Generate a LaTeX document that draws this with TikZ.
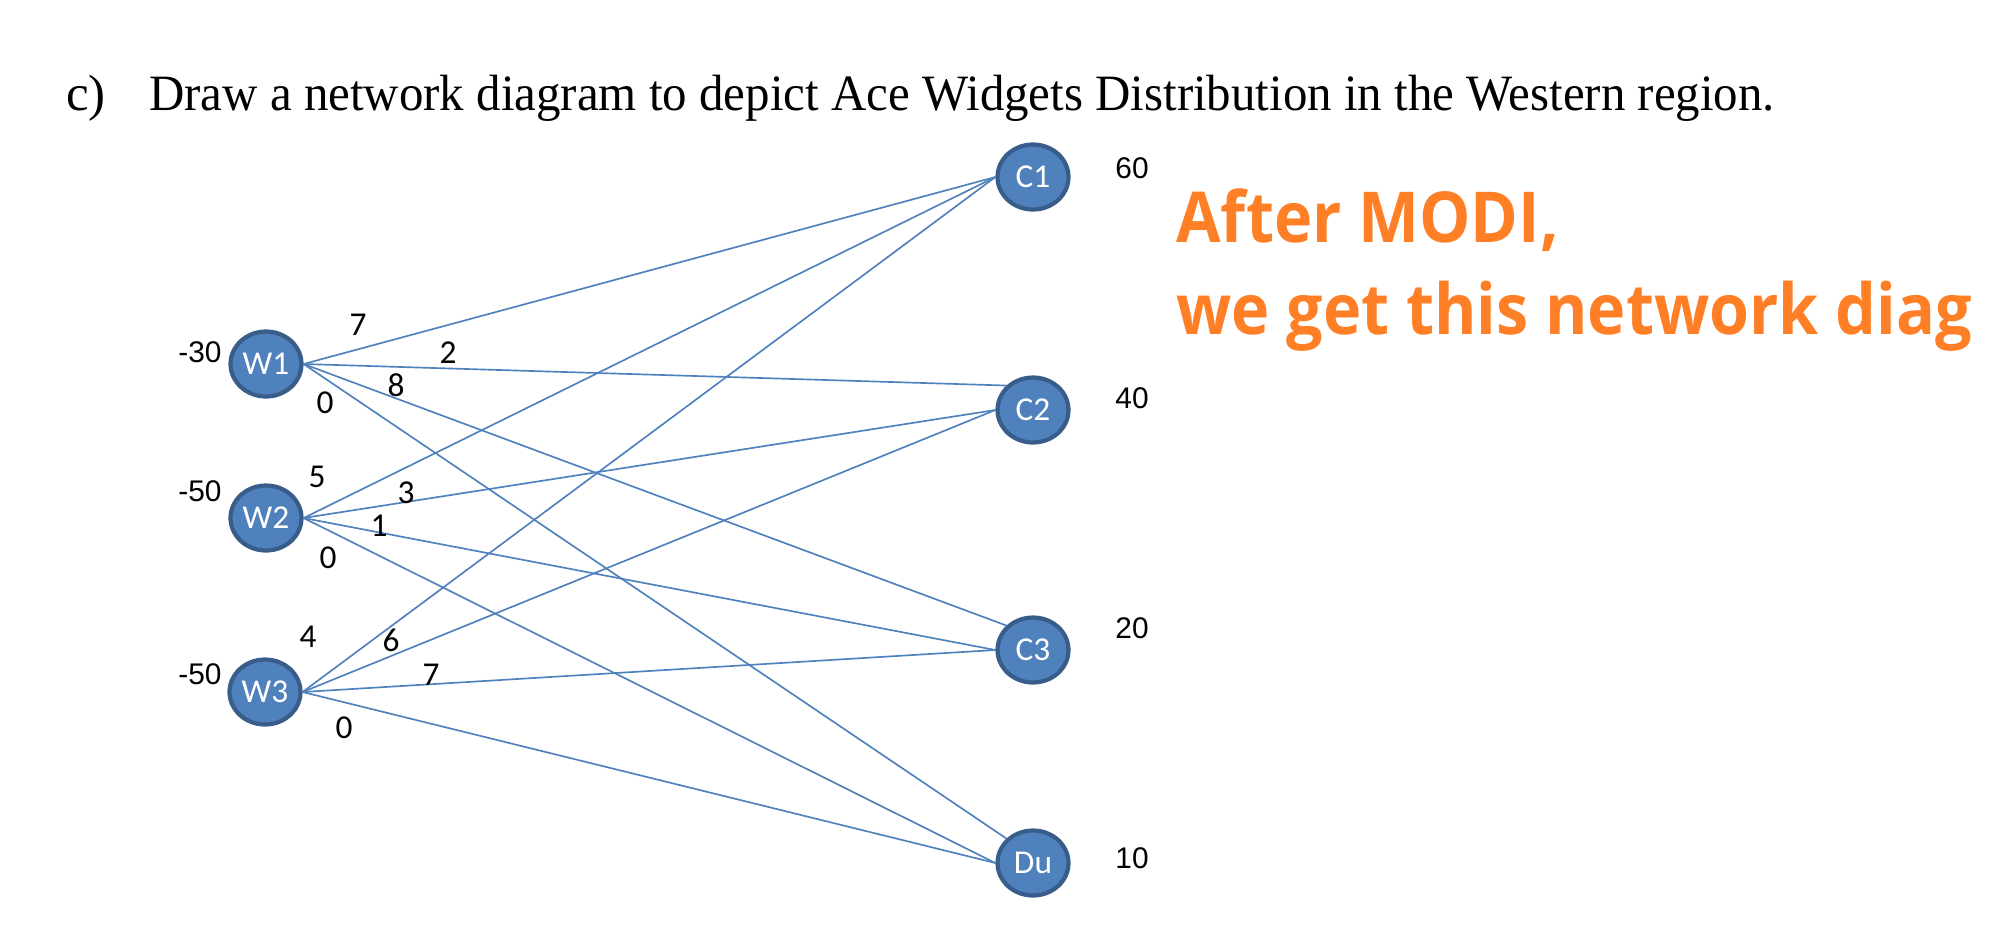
\documentclass[tikz,border=0pt]{standalone}
\usepackage{fontspec}
\usepackage{graphicx}
\setmainfont{Liberation Serif}
\newfontfamily\calfont{Carlito}
\newfontfamily\arfont{Liberation Sans}
\newfontfamily\hlfont{Open Sans}
\usetikzlibrary{shapes.geometric}
\definecolor{nodec}{HTML}{4F81BD}
\definecolor{nodeb}{HTML}{385D8A}
\definecolor{linec}{HTML}{4F81BD}
\definecolor{orng}{HTML}{FF7F27}
\tikzset{
  nd/.style={ellipse,draw=nodeb,line width=2.4pt,fill=nodec,minimum width=1.42cm,minimum height=1.3cm,inner sep=0pt,text=white,font=\calfont\fontsize{19}{21}\selectfont},
  ln/.style={linec,line width=0.95pt},
  lab/.style={font=\calfont\fontsize{19}{21}\selectfont,inner sep=0pt},
  qty/.style={font=\arfont\fontsize{17}{19}\selectfont,inner sep=0pt},
  note/.style={anchor=base west,inner sep=0pt,text=orng,font=\hlfont\bfseries\fontsize{40}{44}\selectfont}
}

\begin{document}
\begin{tikzpicture}[x=0.02cm,y=-0.02cm]
\useasboundingbox (0,0) rectangle (2000,944);
% question
\node[anchor=base west,inner sep=0pt,font=\fontsize{29}{33}\selectfont] (qno) at (66,110) {c)};
\node[anchor=base west,inner sep=0pt,font=\fontsize{29}{33}\selectfont] (qtx) at (149,110) {\scalebox{0.96}[1]{Draw a network diagram to depict Ace Widgets Distribution in the Western region.}};
% warehouses and customers
\node[nd] (W1) at (266,364) {W1};
\node[nd] (W2) at (266,518) {W2};
\node[nd] (W3) at (265,692) {W3};
\node[nd] (C1) at (1033,177) {C1};
\node[nd] (C2) at (1033,410) {C2};
\node[nd] (C3) at (1033,650) {C3};
\node[nd] (Du) at (1033,863) {Du};
\foreach \s/\t/\a in {W1/C1/west,W1/C2/north west,W1/C3/north west,W1/Du/north west,
  W2/C1/west,W2/C2/west,W2/C3/west,W2/Du/west,
  W3/C1/west,W3/C2/west,W3/C3/west,W3/Du/west}
  \draw[ln] (\s.east) -- (\t.\a);
% costs
\foreach \n/\v/\x/\y in {w1c1/7/358/325,w1c2/2/448/353,w1c3/8/396/385,w1du/0/325/403,
  w2c1/5/317/477,w2c2/3/406/493,w2c3/1/379/526,w2du/0/328/558,
  w3c1/4/308/637,w3c2/6/391/640,w3c3/7/431/675,w3du/0/344/728}
  \node[lab] (\n) at (\x,\y) {\v};
% supply and demand
\foreach \n/\v/\x/\y in {s1/-30/200/352,s2/-50/200/491,s3/-50/200/674,
  d1/60/1132/168,d2/40/1132/398,d3/20/1132/628,d4/10/1132/858}
  \node[qty] (\n) at (\x,\y) {\v};
% note
\node[note] (nt1) at (1176,242) {\scalebox{0.92}[1]{After MODI,}};
\node[note] (nt2) at (1176,334) {\scalebox{0.92}[1]{we get this network diag}};
\end{tikzpicture}
\end{document}
